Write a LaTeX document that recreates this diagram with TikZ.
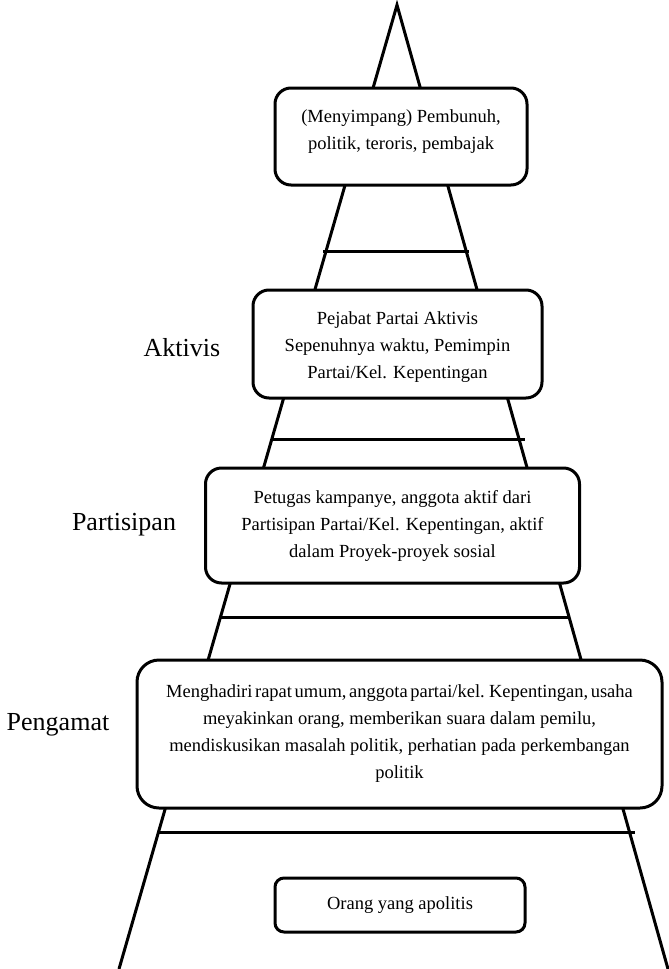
\documentclass[tikz,border=0pt]{standalone}
\usepackage{fontspec}
\setmainfont{Liberation Serif}
\begin{document}
\begin{tikzpicture}[x=1pt,y=-1pt,
  edge/.style={line width=3pt},
  rbox/.style={draw,line width=3pt,fill=white,rounded corners=16pt,align=center,inner sep=0pt,
     font=\fontsize{18.5}{27}\selectfont},
  side/.style={font=\fontsize{26}{30}\selectfont}]
\useasboundingbox (0,0) rectangle (669,969);
\coordinate (apex) at (397,5);
\coordinate (bl) at (119,969);
\coordinate (br) at (668,969);
\draw[edge] (bl) -- (apex) -- (br);
% rungs
\coordinate (r1a) at (323,251); \coordinate (r1b) at (469,251);
\coordinate (r2a) at (273,439); \coordinate (r2b) at (525,439);
\coordinate (r3a) at (220,617); \coordinate (r3b) at (568,617);
\coordinate (r4a) at (158,832); \coordinate (r4b) at (635,832);
\draw[edge] (r1a) -- (r1b);
\draw[edge] (r2a) -- (r2b);
\draw[edge] (r3a) -- (r3b);
\draw[edge] (r4a) -- (r4b);
% boxes
\node[rbox,minimum width=252pt,minimum height=97pt] (b1) at (401,136.5) {};
\node[align=center,inner sep=0pt,font=\fontsize{18.5}{27}\selectfont] (t1) at (401,132)
  {(Menyimpang) Pembunuh,\\politik, teroris, pembajak};
\node[rbox,minimum width=289pt,minimum height=108pt] (b2) at (397.5,344) {};
\node[align=center,inner sep=0pt,font=\fontsize{18.5}{27}\selectfont] (t2) at (397.5,347)
  {Pejabat Partai Aktivis\\Sepenuhnya waktu, Pemimpin\\Partai/Kel. Kepentingan};
\node[rbox,minimum width=374pt,minimum height=115pt] (b3) at (392.5,525.5)
  {Petugas kampanye, anggota aktif dari\\Partisipan Partai/Kel. Kepentingan, aktif\\dalam Proyek-proyek sosial};
\node[rbox,minimum width=525pt,minimum height=148pt,rounded corners=22pt] (b4) at (399.5,734)
  {\spaceskip=2.6pt plus 1pt Menghadiri rapat umum, anggota partai/kel. Kepentingan, usaha\\meyakinkan orang, memberikan suara dalam pemilu,\\mendiskusikan masalah politik, perhatian pada perkembangan\\politik};
\node[rbox,minimum width=250pt,minimum height=54pt,rounded corners=9pt] (b5) at (400,905)
  {Orang yang apolitis};
% side labels
\node[side] (l1) at (182,348) {Aktivis};
\node[side] (l2) at (124,525) {Partisipan};
\node[side] (l3) at (58,725) {Pengamat};
\end{tikzpicture}
\end{document}
